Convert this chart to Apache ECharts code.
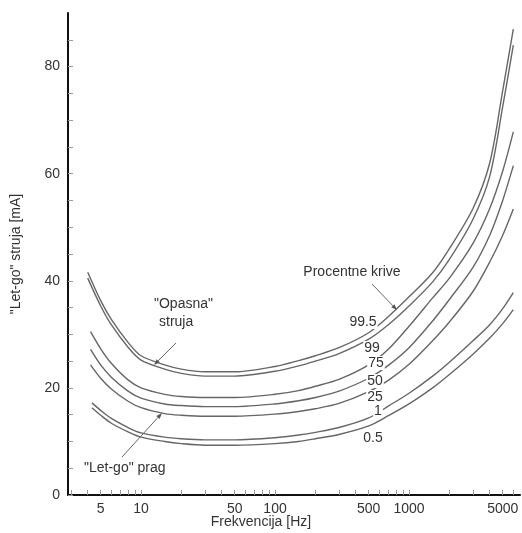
<!DOCTYPE html>
<html style="height: 100%">
<head>
    <meta charset="utf-8">
    <title>Let-go struja</title>
    <script src="https://cdn.jsdelivr.net/npm/echarts@6/dist/echarts.min.js"></script>
</head>
<body style="height: 100%; margin: 0">
<div id="container" style="width: 522px; height: 533px"></div>
<script type="text/javascript">
    // frekvencije tacaka na krivama [Hz] (posle pocetne tacke)
    var freqs = [5, 6, 8, 10, 15, 20, 30, 50, 100, 150, 200, 300, 500, 700, 1000, 1500, 2000, 3000, 4000, 5000, 6000];
    var curveNames = ['99.5', '99', '75', '50', '25', '1', '0.5'];
    // pocetna frekvencija svake krive
    var startFreqs = [4.0, 4.0, 4.2, 4.2, 4.2, 4.3, 4.3];
    // struja [mA], prva vrednost je na pocetnoj frekvenciji
    var c995 = [41.6, 36.3, 32.8, 28.5, 26.0, 24.3, 23.5, 23.0, 23.0, 24.0, 25.1, 26.0, 27.5, 30.3, 33.3, 37.0, 41.5, 46.0, 53.5, 62.0, 75.5, 87.0];
    var c99 = [40.5, 35.3, 31.8, 27.6, 25.2, 23.5, 22.7, 22.2, 22.2, 23.1, 24.1, 25.0, 26.4, 29.1, 31.8, 35.3, 39.8, 44.0, 51.5, 59.5, 72.5, 84.0];
    var c75 = [30.5, 27.3, 24.6, 21.5, 20.0, 18.8, 18.4, 18.2, 18.2, 18.8, 19.5, 20.3, 21.6, 24.3, 27.2, 31.5, 36.8, 40.5, 47.0, 53.5, 60.5, 67.8];
    var c50 = [27.2, 24.3, 22.0, 19.4, 18.1, 17.0, 16.7, 16.5, 16.5, 17.0, 17.6, 18.2, 19.4, 21.8, 24.2, 27.5, 32.5, 36.5, 42.5, 48.5, 55.0, 61.5];
    var c25 = [24.3, 21.8, 19.8, 17.5, 16.3, 15.2, 14.9, 14.7, 14.7, 15.1, 15.6, 16.1, 17.1, 19.3, 21.4, 24.4, 28.8, 32.3, 38.0, 43.5, 48.5, 53.4];
    var c1 = [17.2, 15.8, 14.3, 12.6, 11.6, 10.8, 10.5, 10.3, 10.3, 10.7, 11.2, 11.7, 12.6, 14.4, 16.6, 19.0, 22.2, 24.8, 28.8, 31.8, 34.8, 37.8];
    var c05 = [16.3, 14.9, 13.4, 11.8, 10.8, 10.0, 9.6, 9.3, 9.3, 9.6, 10.0, 10.5, 11.3, 12.9, 14.8, 17.0, 20.0, 22.5, 26.3, 29.3, 32.0, 34.6];
    var curves = [c995, c99, c75, c50, c25, c1, c05];

    // oznake i podeoci ose
    var xLabels = [5, 10, 50, 100, 500, 1000, 5000];
    var xTicks = [3, 4, 5, 6, 7, 8, 9, 10, 20, 30, 40, 50, 60, 70, 80, 90, 100, 200, 300, 400, 500, 600, 700, 800, 900,
        1000, 2000, 3000, 4000, 5000, 6000];
    var yLabels = [0, 20, 40, 60, 80];

    var FONT = 'Liberation Sans';
    var TXT = '#333';
    var FS = 14;

    var dom = document.getElementById('container');
    var myChart = echarts.init(dom, null, { renderer: 'canvas' });

    // x osa je logaritamska: crtamo log10(f)
    function lg(f) { return Math.log(f) / Math.LN10; }

    var series = curveNames.map(function (name, i) {
        var vals = curves[i];
        var data = [[lg(startFreqs[i]), vals[0]]];
        for (var k = 0; k < freqs.length; k++) {
            data.push([lg(freqs[k]), vals[k + 1]]);
        }
        return {
            name: name,
            type: 'line',
            smooth: 0.3,
            symbol: 'none',
            lineStyle: { color: '#666', width: 1.4 },
            data: data,
            z: 2
        };
    });

    // strelica: linija + vrh
    function arrow(x1, y1, x2, y2) {
        var a = Math.atan2(y2 - y1, x2 - x1);
        var L = 6, W = 2.2;
        var bx = x2 - L * Math.cos(a), by = y2 - L * Math.sin(a);
        return [{
            type: 'line', z: 20,
            shape: { x1: x1, y1: y1, x2: bx, y2: by },
            style: { stroke: '#666', lineWidth: 1 }
        }, {
            type: 'polygon', z: 20,
            shape: { points: [[x2, y2], [bx - W * Math.sin(a), by + W * Math.cos(a)], [bx + W * Math.sin(a), by - W * Math.cos(a)]] },
            style: { fill: '#555' }
        }];
    }

    function txt(s, x, y, align, bg) {
        return {
            type: 'text', z: 30, x: x, y: y,
            style: {
                text: s, fill: TXT, font: FS + 'px "' + FONT + '"',
                align: align || 'center', verticalAlign: 'middle',
                backgroundColor: bg ? '#fff' : 'transparent', padding: bg ? [0, 1] : 0
            }
        };
    }

    // tekstovi i strelice na slici
    var graphics = [
        txt('"Opasna"', 154, 304, 'left'),
        txt('struja', 159, 322, 'left'),
        txt('"Let-go" prag', 84, 468, 'left'),
        txt('Procentne krive', 352, 272),
        txt('99.5', 363, 322, 'center', true),
        txt('99', 372, 348, 'center', true),
        txt('75', 376, 363, 'center', true),
        txt('50', 375, 381, 'center', true),
        txt('25', 375, 397, 'center', true),
        txt('1', 378, 411, 'center', true),
        txt('0.5', 373, 438, 'center', true),
        txt('Frekvencija [Hz]', 261, 522)
    ]
        .concat(arrow(176, 343, 154, 365))
        .concat(arrow(122, 457, 162, 413))
        .concat(arrow(372, 284, 397, 310));

    var option = {
        animation: false,
        backgroundColor: '#fff',
        grid: { left: 68, right: 2, top: 13, bottom: 38 },
        xAxis: {
            type: 'value',
            min: 0.455,
            max: 3.828,
            axisLine: { onZero: false, lineStyle: { color: '#111', width: 2 } },
            axisTick: {
                inside: true, length: 5,
                customValues: xTicks.map(lg),
                lineStyle: { color: '#999', width: 1 }
            },
            axisLabel: {
                customValues: xLabels.map(lg),
                color: TXT, fontFamily: FONT, fontSize: FS, margin: 7,
                formatter: function (v) { return String(Math.round(Math.pow(10, v))); }
            },
            splitLine: { show: false }
        },
        yAxis: {
            type: 'value',
            min: 0,
            max: 90,
            name: '"Let-go" struja [mA]',
            nameLocation: 'middle',
            nameGap: 45,
            nameTextStyle: { color: TXT, fontFamily: FONT, fontSize: FS },
            axisLine: { show: true, lineStyle: { color: '#111', width: 2 } },
            axisTick: {
                inside: true, length: 5,
                customValues: [0, 5, 10, 15, 20, 25, 30, 35, 40, 45, 50, 55, 60, 65, 70, 75, 80, 85],
                lineStyle: { color: '#999', width: 1 }
            },
            axisLabel: {
                customValues: yLabels,
                color: TXT, fontFamily: FONT, fontSize: FS, margin: 8
            },
            splitLine: { show: false }
        },
        series: series,
        graphic: graphics
    };

    myChart.setOption(option);
</script>
</body>
</html>
